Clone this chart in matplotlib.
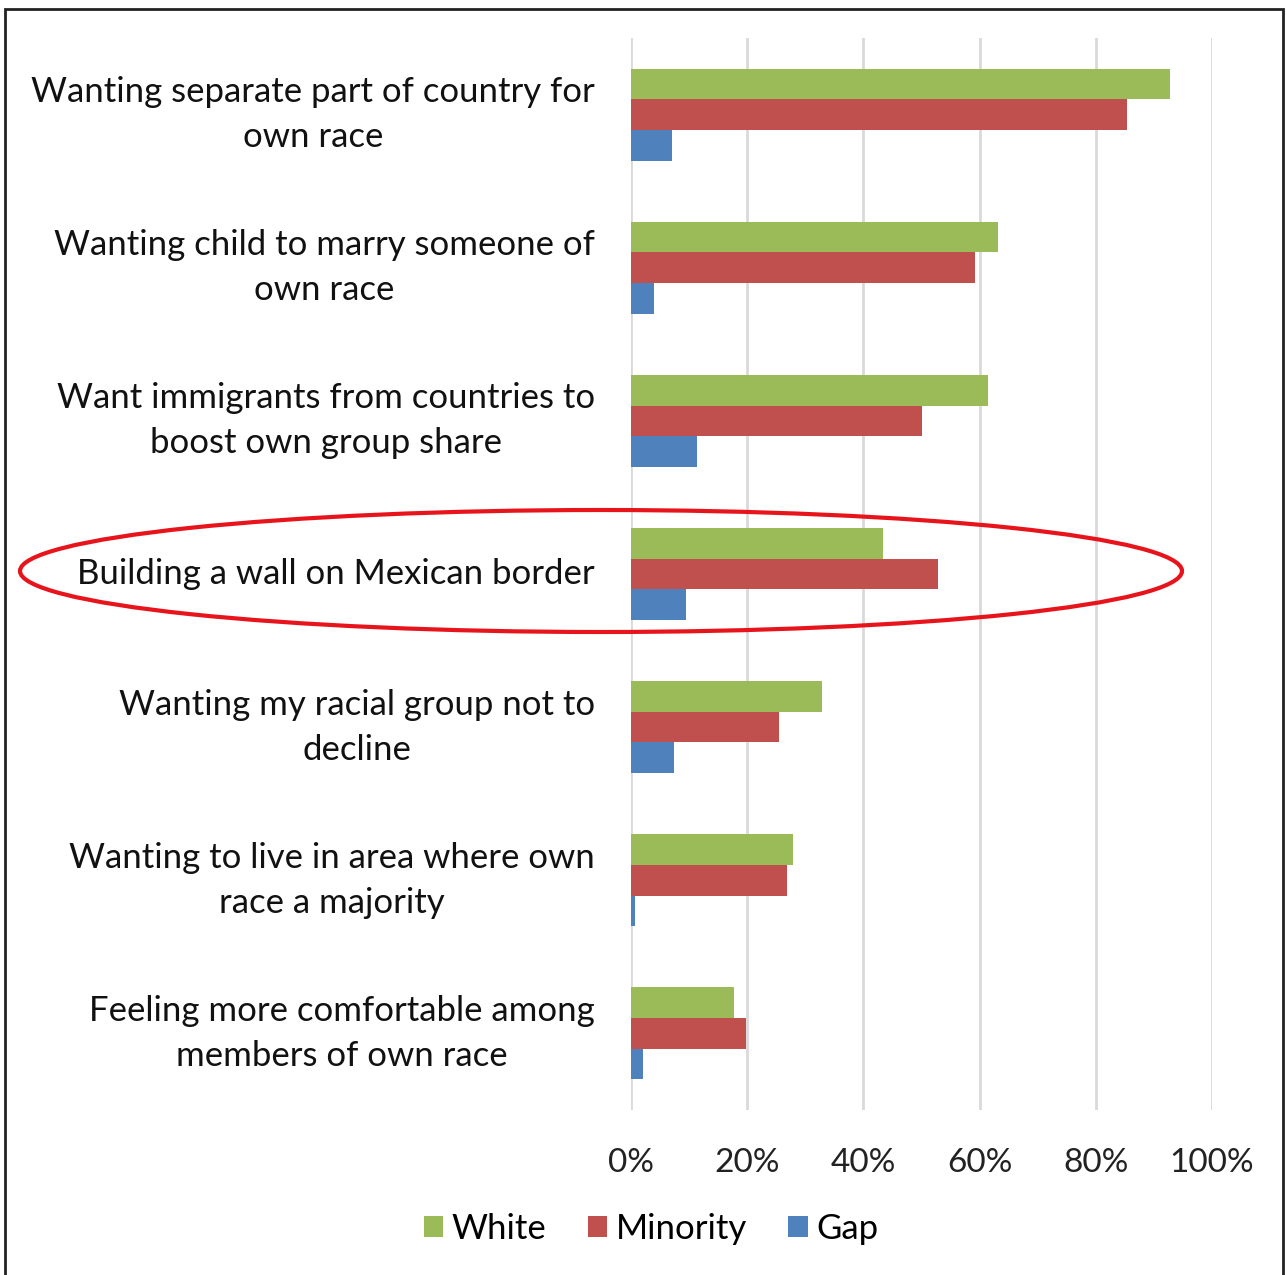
import matplotlib.pyplot as plt
from matplotlib.patches import Ellipse, Rectangle
import numpy as np

categories = [
    "Wanting separate part of country for\nown race",
    "Wanting child to marry someone of\nown race",
    "Want immigrants from countries to\nboost own group share",
    "Building a wall on Mexican border",
    "Wanting my racial group not to\ndecline",
    "Wanting to live in area where own\nrace a majority",
    "Feeling more comfortable among\nmembers of own race",
]
white = [0.928, 0.632, 0.614, 0.434, 0.329, 0.279, 0.177]
minority = [0.854, 0.592, 0.500, 0.528, 0.255, 0.269, 0.198]
gap = [0.071, 0.039, 0.113, 0.095, 0.074, 0.007, 0.021]
xticks = [0, 0.2, 0.4, 0.6, 0.8, 1.0]
xticklabels = ["0%", "20%", "40%", "60%", "80%", "100%"]

plt.rcParams['font.family'] = ['Lato', 'DejaVu Sans']

fig = plt.figure(figsize=(12.87, 12.75), dpi=100)
W, H = 1287, 1275
ax = fig.add_axes([631 / W, 1 - 1110 / H, (1212 - 631) / W, (1110 - 38) / H])

y = np.arange(len(categories))
h = 0.2
ax.barh(y - h, white, height=h, color='#9BBB59', label='White', zorder=3)
ax.barh(y, minority, height=h, color='#C0504D', label='Minority', zorder=3)
ax.barh(y + h, gap, height=h, color='#4F81BD', label='Gap', zorder=3)

ax.set_xlim(0, 1.0)
ax.set_ylim(len(categories) - 0.5, -0.5)
ax.set_xticks(xticks)
ax.set_xticklabels(xticklabels, fontsize=24, color='#222222')
ax.set_yticks(y)
ax.set_yticklabels(categories, fontsize=25, color='#111111',
                   multialignment='center', linespacing=1.5, va='center')
ax.tick_params(axis='both', length=0)
ax.tick_params(axis='x', pad=27)
ax.tick_params(axis='y', pad=26)
ax.grid(axis='x', color='#D9D9D9', linewidth=2, zorder=0)
for s in ax.spines.values():
    s.set_visible(False)

fig.legend(loc='center', bbox_to_anchor=(651 / W, 1 - 1229 / H), ncol=3, frameon=False,
           fontsize=25, handlelength=0.55, handleheight=0.55, handletextpad=0.25,
           columnspacing=1.2)

# highlight ellipse
fig.patches.append(Ellipse((601 / W, 1 - 571 / H), 1162 / W, 122 / H,
                           transform=fig.transFigure, fill=False,
                           edgecolor='#E8141B', linewidth=3))
# outer frame
fig.patches.append(Rectangle((5 / W, -0.01), 1278 / W, 1 - 9 / H + 0.01,
                             transform=fig.transFigure, fill=False,
                             edgecolor='#222222', linewidth=2))

fig.savefig('out.png', dpi=100, facecolor='white')
